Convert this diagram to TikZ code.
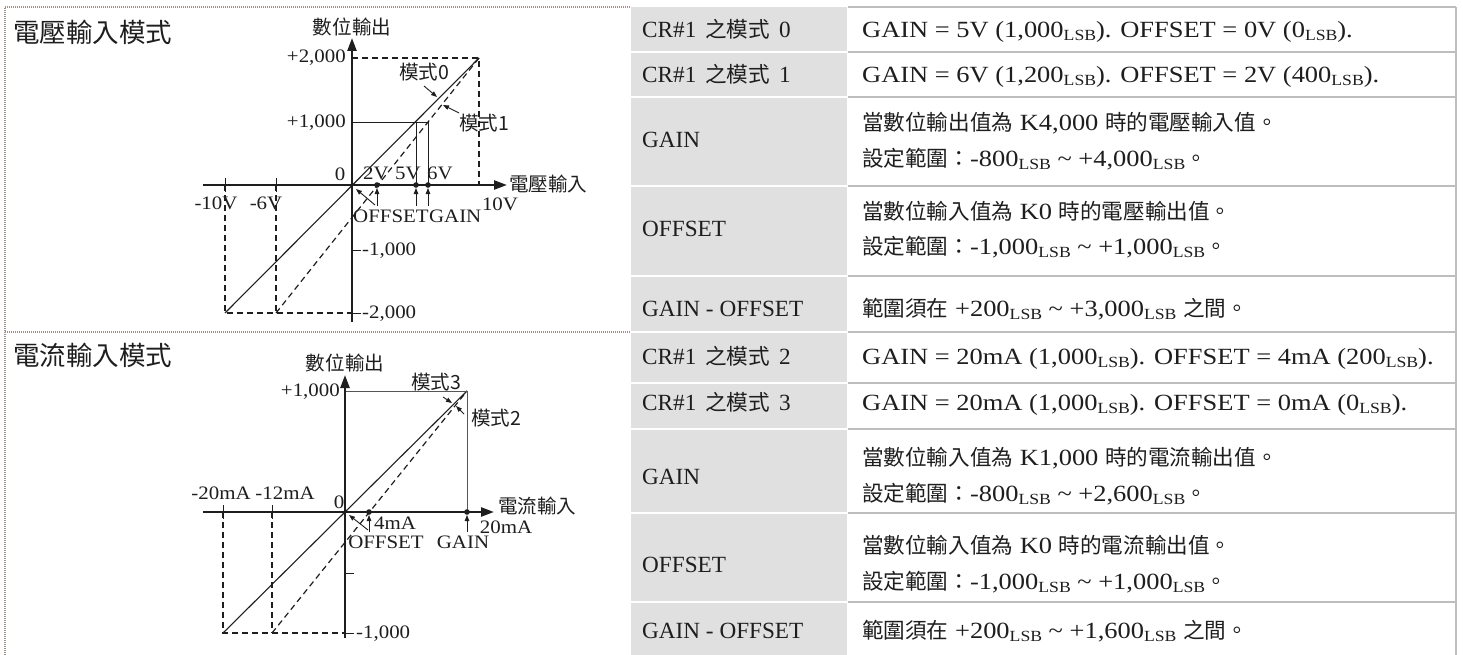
\documentclass[tikz,border=0pt]{standalone}
\usepackage{fontspec}
\setmainfont{Liberation Serif}[FakeStretch=1.1]
\newfontfamily\tabfont{Liberation Serif}[FakeStretch=1.14]
\newfontfamily\plainfont{Liberation Serif}
\newfontfamily\cjk[Scale=0.93]{Noto Sans CJK TC}
\usetikzlibrary{arrows.meta}
\newcommand\myfs[1]{\fontsize{#1}{#1}\selectfont}
\newcommand\lsb{\raisebox{-3pt}{\fontsize{15.5}{15.5}\selectfont LSB}}
\newcommand\tld{\textasciitilde}
\newcommand\gap{\hspace{9pt}}
\definecolor{cellgray}{RGB}{224,224,224}
\definecolor{gridgray}{RGB}{190,190,190}
\definecolor{brd}{RGB}{160,145,138}
\definecolor{ink}{RGB}{30,30,30}
\begin{document}
\begin{tikzpicture}[x=1pt,y=-1pt,
  lbl/.style={inner sep=0pt, font=\myfs{19}, text=ink},
  clbl/.style={inner sep=0pt, font=\myfs{21}\cjk, text=ink},
  tab/.style={inner sep=0pt, anchor=base west, font=\myfs{23.2}\tabfont, text=ink},
  ltab/.style={inner sep=0pt, anchor=base west, font=\myfs{23.2}\plainfont, text=ink},
  axis/.style={line width=2.4pt, draw=ink, -{Triangle[length=13pt,width=9pt]}},
  curve/.style={line width=1.1pt, draw=ink},
  dsh/.style={line width=1.5pt, draw=ink, dash pattern=on 6pt off 4pt},
  thinl/.style={line width=0.9pt, draw=ink},
  small/.style={line width=0.9pt, draw=ink, -{Triangle[length=6pt,width=4.5pt]}},
  grid/.style={line width=1.6pt, draw=gridgray},
  border/.style={line width=1.2pt, draw=brd, dash pattern=on 1pt off 1pt}]
\useasboundingbox (0,0) rectangle (1463,655);
\fill[white] (0,0) rectangle (1463,655);

% ---------- panel borders ----------
\draw[border] (5,655) -- (5,7) -- (631,7);
\draw[border] (5,332) -- (631,332);

% ---------- table ----------
\foreach \a/\b in {7/51,53/96,98/185,187/275,277/331,333/382,384/428,430/512,514/601,603/655}
  \fill[cellgray] (631,\a) rectangle (847,\b);
\foreach \yy in {7,52,97,186,276,332,383,429,513,602}
  \draw[grid] (848,\yy) -- (1456,\yy);
\draw[grid] (1456,7) -- (1456,655);

% left column labels
\node[ltab] (l1) at (642,38) {CR\#1\gap{\cjk 之模式}\gap 0};
\node[ltab] (l2) at (642,83) {CR\#1\gap{\cjk 之模式}\gap 1};
\node[ltab] (l3) at (642,148) {GAIN};
\node[ltab] (l4) at (642,236) {OFFSET};
\node[ltab] (l5) at (642,316) {GAIN - OFFSET};
\node[ltab] (l6) at (642,364) {CR\#1\gap{\cjk 之模式}\gap 2};
\node[ltab] (l7) at (642,410) {CR\#1\gap{\cjk 之模式}\gap 3};
\node[ltab] (l8) at (642,484) {GAIN};
\node[ltab] (l9) at (642,572) {OFFSET};
\node[ltab] (l10) at (642,638) {GAIN - OFFSET};

% right column texts
\node[tab] (r1) at (862,38) {GAIN = 5V (1,000\lsb). OFFSET = 0V (0\lsb).};
\node[tab] (r2) at (862,83) {GAIN = 6V (1,200\lsb). OFFSET = 2V (400\lsb).};
\node[tab] (r3a) at (862,131) {{\cjk 當數位輸出值為} K4,000 {\cjk 時的電壓輸入值。}};
\node[tab] (r3b) at (862,167) {{\cjk 設定範圍：}-800\lsb\ \tld\ +4,000\lsb{\cjk 。}};
\node[tab] (r4a) at (862,219) {{\cjk 當數位輸入值為} K0 {\cjk 時的電壓輸出值。}};
\node[tab] (r4b) at (862,254) {{\cjk 設定範圍：}-1,000\lsb\ \tld\ +1,000\lsb{\cjk 。}};
\node[tab] (r5) at (862,316) {{\cjk 範圍須在} +200\lsb\ \tld\ +3,000\lsb\ {\cjk 之間。}};
\node[tab] (r6) at (862,364) {GAIN = 20mA (1,000\lsb). OFFSET = 4mA (200\lsb).};
\node[tab] (r7) at (862,410) {GAIN = 20mA (1,000\lsb). OFFSET = 0mA (0\lsb).};
\node[tab] (r8a) at (862,465) {{\cjk 當數位輸入值為} K1,000 {\cjk 時的電流輸出值。}};
\node[tab] (r8b) at (862,501) {{\cjk 設定範圍：}-800\lsb\ \tld\ +2,600\lsb{\cjk 。}};
\node[tab] (r9a) at (862,553) {{\cjk 當數位輸入值為} K0 {\cjk 時的電流輸出值。}};
\node[tab] (r9b) at (862,589) {{\cjk 設定範圍：}-1,000\lsb\ \tld\ +1,000\lsb{\cjk 。}};
\node[tab] (r10) at (862,638) {{\cjk 範圍須在} +200\lsb\ \tld\ +1,600\lsb\ {\cjk 之間。}};

% ---------- panel titles ----------
\node[inner sep=0pt, anchor=west, font=\myfs{28.5}\cjk, text=ink] (tv) at (13,32) {電壓輸入模式};
\node[inner sep=0pt, anchor=west, font=\myfs{28.5}\cjk, text=ink] (ti) at (13,355) {電流輸入模式};

% ---------- top graph (voltage) ----------
\coordinate (t-ybot) at (352,322); \coordinate (t-ytop) at (352,38);
\coordinate (t-xl) at (203,185);   \coordinate (t-xr) at (507,185);
\coordinate (t-m0a) at (225,313);  \coordinate (t-m0b) at (479,58);
\coordinate (t-m1a) at (276,313);
\coordinate (t-p2k) at (352,58);   \coordinate (t-10v) at (479,185);
\coordinate (t-n10) at (225,185);  \coordinate (t-n2k) at (352,313);
\coordinate (t-n6) at (276,185);
\coordinate (t-1k) at (352,122);   \coordinate (t-5t) at (416,122); \coordinate (t-6t) at (428,122);
\coordinate (t-2v) at (377,185);   \coordinate (t-5v) at (416,185); \coordinate (t-6v) at (428,185);
\coordinate (t-2va) at (377,206);  \coordinate (t-5va) at (416,206); \coordinate (t-6va) at (428,206);
\coordinate (t-2vt) at (377,188);  \coordinate (t-5vt) at (416,188); \coordinate (t-6vt) at (428,188);
\coordinate (t-offa) at (375,205); \coordinate (t-offt) at (356,189);

\draw[dsh] (t-p2k) -- (t-m0b) -- (t-10v);
\draw[dsh] (t-n10) -- (t-m0a) -- (t-n2k);
\draw[dsh] (t-n6) -- (t-m1a);
\draw[curve] (t-m0a) -- (t-m0b);
\draw[dsh, line width=1.2pt] (t-m1a) -- (t-m0b);
\draw[thinl] (t-1k) -- (t-6t) -- (t-6v);
\draw[thinl] (t-5t) -- (t-5v);
\draw[thinl] (225,178) -- (225,192);
\draw[thinl] (276,178) -- (276,192);
\draw[thinl] (352,250) -- (361,250);
\draw[thinl] (352,313) -- (361,313);
\draw[axis] (t-ybot) -- (t-ytop);
\draw[axis] (t-xl) -- (t-xr);
\fill[ink] (t-2v) circle (2.8) (t-5v) circle (2.8) (t-6v) circle (2.8);
\draw[small] (t-2va) -- (t-2vt);
\draw[small] (t-5va) -- (t-5vt);
\draw[small] (t-6va) -- (t-6vt);
\draw[small] (t-offa) -- (t-offt);

\node[clbl] (t-ylab) at (352,27) {數位輸出};
\node[clbl, anchor=west] (t-xlab) at (509,184) {電壓輸入};
\node[lbl, anchor=east] (t-l2k) at (346,58) {+2,000};
\node[lbl, anchor=east] (t-l1k) at (346,123) {+1,000};
\node[lbl] (t-l0) at (340,174) {0};
\node[lbl] (t-l2v) at (376,173) {2V};
\node[lbl] (t-l5v) at (408,173) {5V};
\node[lbl] (t-l6v) at (440,173) {6V};
\node[lbl] (t-ln10) at (216,203) {-10V};
\node[lbl] (t-ln6) at (266,203) {-6V};
\node[lbl] (t-l10) at (500,204) {10V};
\node[lbl, anchor=west] (t-loff) at (353,216) {OFFSET};
\node[lbl, anchor=west] (t-lgain) at (t-loff.east) {GAIN};
\node[lbl, anchor=west] (t-lm1k) at (362,251) {-1,000};
\node[lbl, anchor=west] (t-lm2k) at (362,314) {-2,000};
\node[clbl] (t-mode0) at (424,72) {模式0};
\node[clbl] (t-mode1) at (484,123) {模式1};
\coordinate (t-m0s) at (424,86);
\coordinate (t-m0t) at (437,97);
\coordinate (t-m1s) at (459,113);
\coordinate (t-m1t) at (443,105);
\draw[small] (t-m0s) -- (t-m0t);
\draw[small] (t-m1s) -- (t-m1t);

% ---------- bottom graph (current) ----------
\coordinate (b-ybot) at (345,638); \coordinate (b-ytop) at (345,375);
\coordinate (b-xl) at (203,512);   \coordinate (b-xr) at (494,512);
\coordinate (b-m3a) at (223,633);  \coordinate (b-top) at (467,391);
\coordinate (b-m2a) at (272,633);
\coordinate (b-p1k) at (345,391);  \coordinate (b-20) at (467,512);
\coordinate (b-n20) at (223,512);  \coordinate (b-n1k) at (345,633);
\coordinate (b-n12) at (272,512);
\coordinate (b-4) at (369,512);
\coordinate (b-4a) at (369,532);   \coordinate (b-4t) at (369,515);
\coordinate (b-20a) at (467,532);  \coordinate (b-20t) at (467,515);
\coordinate (b-offa) at (368,530); \coordinate (b-offt) at (349,515);

\draw[dsh] (b-n20) -- (b-m3a) -- (b-n1k);
\draw[dsh] (b-n12) -- (b-m2a);
\draw[curve] (b-m3a) -- (b-top);
\draw[dsh, line width=1.2pt] (b-m2a) -- (b-top);
\draw[thinl, draw=ink!75] (b-p1k) -- (b-top) -- (b-20);
\draw[thinl] (223,505) -- (223,519);
\draw[thinl] (272,505) -- (272,519);
\draw[thinl] (345,573) -- (354,573);
\draw[thinl] (345,633) -- (354,633);
\draw[axis] (b-ybot) -- (b-ytop);
\draw[axis] (b-xl) -- (b-xr);
\fill[ink] (b-4) circle (2.8) (b-20) circle (2.8);
\draw[small] (b-4a) -- (b-4t);
\draw[small] (b-20a) -- (b-20t);
\draw[small] (b-offa) -- (b-offt);

\node[clbl] (b-ylab) at (345,363) {數位輸出};
\node[clbl, anchor=west] (b-xlab) at (498,506) {電流輸入};
\node[lbl, anchor=east] (b-l1k) at (340,392) {+1,000};
\node[lbl] (b-l0) at (339,502) {0};
\node[lbl] (b-ln20) at (221,493) {-20mA};
\node[lbl] (b-ln12) at (285,493) {-12mA};
\node[lbl] (b-l4) at (395,523) {4mA};
\node[lbl] (b-l20) at (506,527) {20mA};
\node[lbl] (b-loff) at (386,542) {OFFSET};
\node[lbl] (b-lgain) at (463,542) {GAIN};
\node[lbl, anchor=west] (b-lm1k) at (356,634) {-1,000};
\node[clbl] (b-mode3) at (436,382) {模式3};
\node[clbl] (b-mode2) at (496,418) {模式2};
\coordinate (b-m3s) at (443,397); \coordinate (b-m3t) at (452,403);
\coordinate (b-m2s) at (464,414); \coordinate (b-m2t) at (456,406);
\draw[small] (b-m3s) -- (b-m3t);
\draw[small] (b-m2s) -- (b-m2t);
\end{tikzpicture}
\end{document}
